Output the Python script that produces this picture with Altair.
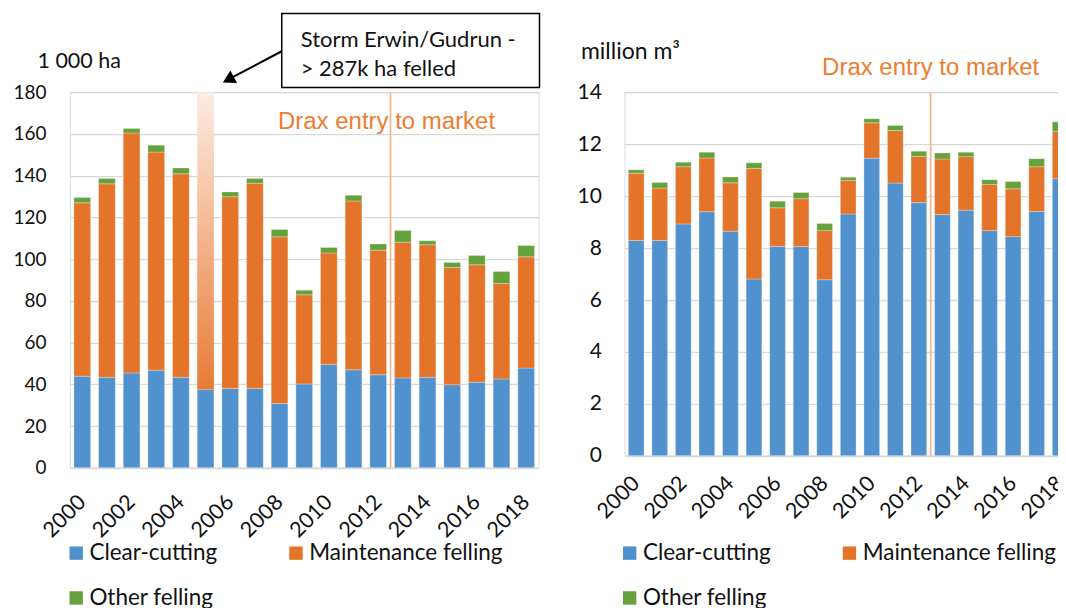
import altair as alt
import pandas as pd

years = list(range(2000, 2019))
categories = ["Clear-cutting", "Maintenance felling", "Other felling"]
colors = ["#5191CD", "#E3742A", "#66A23C"]

# Left panel: felled area, 1 000 ha
area_clear = [43.9, 43.4, 45.5, 46.8, 43.4, 37.5, 38.0, 38.0, 30.8, 40.2,
              49.5, 47.0, 44.6, 43.1, 43.4, 39.8, 41.0, 42.6, 47.8]
area_maint = [83.1, 92.7, 115.0, 104.5, 97.5, None, 91.9, 98.4, 79.9, 42.7,
              53.5, 80.9, 59.7, 65.0, 63.5, 56.2, 56.3, 45.7, 53.3]
area_other = [2.5, 2.5, 2.1, 3.3, 2.8, None, 2.3, 2.2, 3.5, 2.2,
              2.6, 2.7, 3.0, 5.6, 1.9, 2.4, 4.4, 5.8, 5.4]

# Right panel: felled volume, million m3
vol_clear = [8.29, 8.29, 8.93, 9.40, 8.65, 6.81, 8.06, 8.06, 6.78, 9.31,
             11.46, 10.50, 9.75, 9.29, 9.46, 8.67, 8.44, 9.41, 10.67]
vol_maint = [2.59, 2.02, 2.20, 2.07, 1.86, 4.25, 1.49, 1.84, 1.89, 1.29,
             1.36, 2.03, 1.78, 2.14, 2.06, 1.78, 1.84, 1.72, 1.82]
vol_other = [0.13, 0.21, 0.17, 0.22, 0.23, 0.22, 0.25, 0.24, 0.28, 0.13,
             0.16, 0.19, 0.20, 0.23, 0.17, 0.18, 0.28, 0.31, 0.37]

# Storm year (bar runs off the scale)
storm_year = [2005]
storm_base = [37.5]
storm_top = [180]

drax_year = [2012.5]
drax_label = "Drax entry to market"
storm_lines = ["Storm Erwin/Gudrun -", "> 287k ha felled"]

x_ticks = list(range(2000, 2019, 2))
area_ticks = list(range(0, 181, 20))
vol_ticks = list(range(0, 15, 2))

FONT = "Lato"
GRID = "#D9D9D9"
INK = "#111111"


def long_table(clear, maint, other):
    rows = []
    for i, yr in enumerate(years):
        for k, (cat, vals) in enumerate(zip(categories, [clear, maint, other])):
            v = vals[i]
            if v is None:
                continue
            rows.append({"year": yr, "cat": cat, "k": k, "value": v})
    return pd.DataFrame(rows)


def panel(df, ymax, yticks, bar_size, title, tx, ty, fs, xfs, tfs,
          lab_pad_y, lab_pad_x, leg_x, leg_y, col_pad, row_pad, leg_fs,
          drax_y, drax_dx):
    xs = alt.Scale(domain=[1999.5, 2018.5], nice=False, zero=False, padding=0)
    ys = alt.Scale(domain=[0, ymax], nice=False, padding=0)
    x = alt.X("year:Q", scale=xs,
              axis=alt.Axis(values=x_ticks, format="d", labelAngle=-45,
                            labelAlign="right", labelBaseline="middle",
                            labelPadding=lab_pad_x, labelFontSize=xfs,
                            labelFont=FONT, labelColor=INK,
                            grid=False, ticks=False, domain=True,
                            domainColor=GRID, domainWidth=1.6, title=None,
                            labelOverlap=False))
    y = alt.Y("value:Q", stack="zero", scale=ys,
              axis=alt.Axis(values=yticks, grid=True, gridColor=GRID,
                            gridWidth=1.3, domain=False, ticks=False,
                            labelPadding=lab_pad_y, labelFontSize=fs,
                            labelFont=FONT, labelColor=INK,
                            title=title, titleAngle=0, titleX=tx, titleY=ty,
                            titleAlign="left", titleBaseline="alphabetic",
                            titleFontWeight="normal", titleFontSize=tfs,
                            titleFont=FONT, titleColor=INK))
    bars = alt.Chart(df).mark_bar(
        size=bar_size, clip=True, stroke="#FFFFFF", strokeWidth=0.6,
        strokeOpacity=0.45
    ).encode(
        x=x, y=y,
        color=alt.Color("cat:N", scale=alt.Scale(domain=categories, range=colors),
                        legend=alt.Legend(orient="none", legendX=leg_x,
                                          legendY=leg_y, columns=2,
                                          direction="horizontal",
                                          symbolType="square", symbolSize=180,
                                          symbolStrokeWidth=0,
                                          labelFontSize=leg_fs, labelFont=FONT,
                                          labelColor=INK, labelOffset=2,
                                          columnPadding=col_pad,
                                          rowPadding=row_pad, title=None,
                                          padding=0, labelLimit=400)),
        order=alt.Order("k:Q", sort="ascending"),
    )
    rule = alt.Chart(pd.DataFrame({"year": drax_year})).mark_rule(
        color="#F4B183", strokeWidth=1.6
    ).encode(x=alt.X("year:Q"))
    txt = alt.Chart(pd.DataFrame({"year": drax_year, "t": [drax_label]})).mark_text(
        font="Liberation Sans", fontSize=24, color="#ED7D31", align="center",
        baseline="alphabetic", dx=drax_dx
    ).encode(x=alt.X("year:Q"), y=alt.value(drax_y), text="t:N")
    return bars, rule, txt


left_df = long_table(area_clear, area_maint, area_other)
right_df = long_table(vol_clear, vol_maint, vol_other)

lb, lr, lt = panel(left_df, 180, area_ticks, 16.7, "1 000 ha",
                   -33, -25, 19, 21.5, 21.5, 24, 31, -5, 450, 67, 22, 22.5,
                   37, -4)

grad = alt.Gradient(
    gradient="linear",
    stops=[alt.GradientStop(color="#E87B36", offset=0),
           alt.GradientStop(color="#F2B48C", offset=0.5),
           alt.GradientStop(color="#FCEDE3", offset=1)],
    x1=0, x2=0, y1=1, y2=0,
)
storm = alt.Chart(pd.DataFrame({"year": storm_year, "base": storm_base,
                                "top": storm_top})).mark_bar(
    size=16.7, color=grad
).encode(x=alt.X("year:Q"), y=alt.Y("base:Q"), y2="top:Q")

one = pd.DataFrame({"a": [0]})
box = alt.Chart(one).mark_rect(fill="white", stroke="black", strokeWidth=1.5).encode(
    x=alt.value(212), x2=alt.value(470), y=alt.value(-78.7), y2=alt.value(-4.7))
box_text = alt.Chart(pd.DataFrame({"t": [storm_lines]})).mark_text(
    font=FONT, fontSize=22, align="left", baseline="alphabetic", lineHeight=29.5,
    color=INK
).encode(x=alt.value(231), y=alt.value(-45.3), text="t")
arrow = alt.Chart(one).mark_rule(color="black", strokeWidth=2).encode(
    x=alt.value(212), y=alt.value(-41), x2=alt.value(161), y2=alt.value(-14))
head = alt.Chart(one).mark_point(shape="triangle-up", filled=True, color="black",
                                 opacity=1, size=200, angle=242).encode(
    x=alt.value(158.5), y=alt.value(-12.5))

left = alt.layer(lb, storm, lr, lt, box, box_text, arrow, head).properties(
    width=469, height=376)

rb, rr, rt = panel(right_df, 14, vol_ticks, 15.7, "million m³",
                   -44, -33.7, 21, 21.5, 23, 23, 24, -6, 450, 67, 22, 22.5, -17, 0)
right = alt.layer(rb, rr, rt).properties(width=448, height=364)

chart = alt.hconcat(left, right, spacing=35).resolve_scale(
    x="independent", y="independent", color="independent"
).resolve_legend(color="independent").properties(
    padding={"left": 4, "top": 4, "right": -15, "bottom": 0}
).configure_view(stroke=None).configure(font=FONT)

chart.save("out.html", embed_options={"renderer": "svg", "actions": False})
